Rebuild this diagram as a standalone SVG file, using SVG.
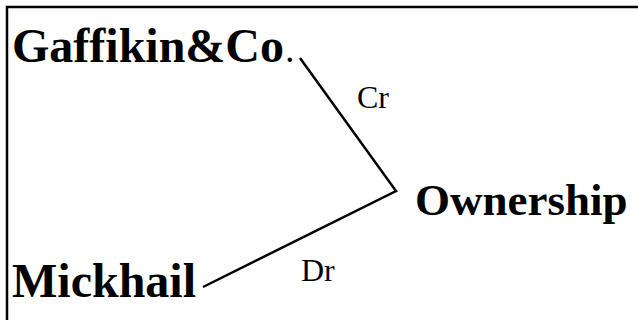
<svg xmlns="http://www.w3.org/2000/svg" width="638" height="320" viewBox="0 0 638 320">
  <style>
    .node { font-family: "Liberation Serif", "Times New Roman", serif; font-weight: bold; fill: #000; }
    .label { font-family: "Liberation Serif", "Times New Roman", serif; font-size: 32px; fill: #000; }
    .edge { stroke: #000; stroke-width: 2.5; fill: none; stroke-linejoin: miter; }
  </style>
  <rect x="0" y="0" width="638" height="320" fill="#fff"/>
  <!-- frame open on the right and bottom -->
  <path d="M7 320 V7 H638" fill="none" stroke="#000" stroke-width="2.5"/>
  <g id="connectors">
    <polyline class="edge" points="300,58 396,191 203,287"/>
    <text class="label" x="357" y="108">Cr</text>
    <text class="label" x="301" y="281">Dr</text>
  </g>
  <g id="gaffikin">
    <text class="node" x="12" y="62" font-size="48">Gaffikin&amp;Co<tspan font-weight="normal" font-size="38" dx="1">.</tspan></text>
  </g>
  <g id="ownership">
    <text class="node" x="415" y="215" font-size="45">Ownership</text>
  </g>
  <g id="mickhail">
    <text class="node" x="12" y="297" font-size="48">Mickhail</text>
  </g>
</svg>
